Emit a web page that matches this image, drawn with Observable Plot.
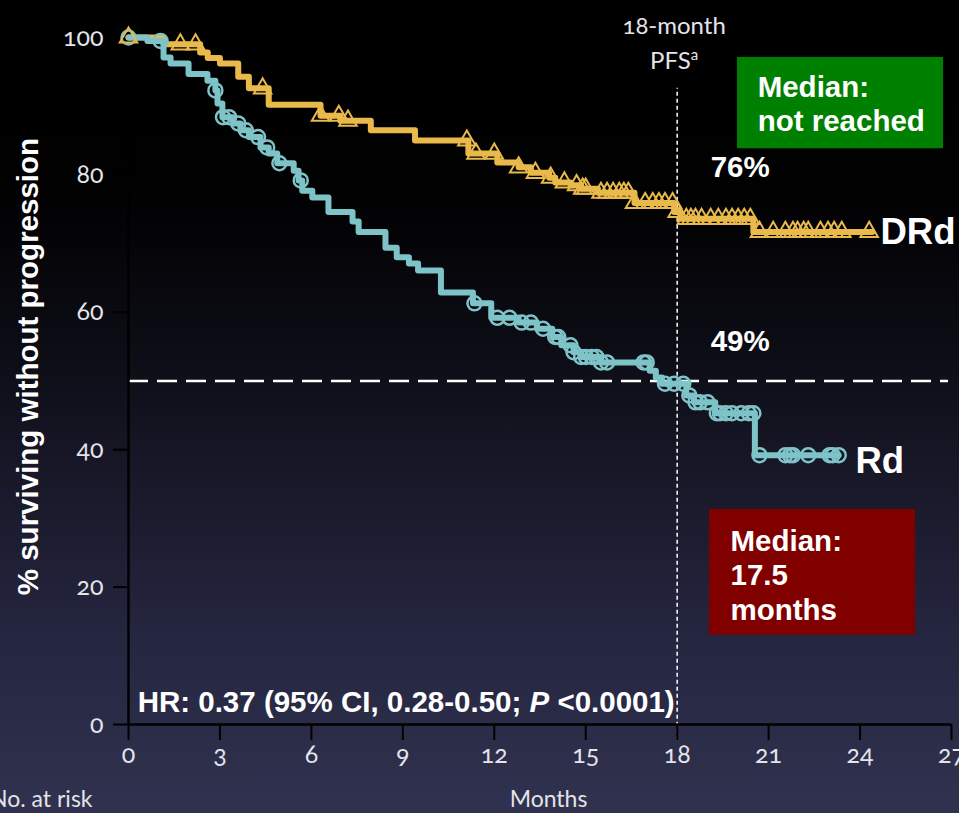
<!DOCTYPE html>
<html>
<head>
<meta charset="utf-8">
<script src="https://cdn.jsdelivr.net/npm/d3@7"></script>
<script src="https://cdn.jsdelivr.net/npm/@observablehq/plot@0.6"></script>
<style>
  html, body { margin: 0; padding: 0; }
  body {
    width: 959px; height: 813px; overflow: hidden;
    background: linear-gradient(180deg, #000000 0px, #010102 190px, #0b0b13 330px, #181829 480px, #252640 640px, #30324f 813px);
  }
  #chart svg { display: block; background: transparent; }
  #chart svg .oldnum text { font-feature-settings: "onum" 1; font-variant-numeric: oldstyle-nums; }
</style>
</head>
<body>
<div id="chart"></div>
<script>
// ---- Data ----
// DRd Kaplan-Meier steps (months, % progression-free)
const drdTimes  = [0, 1.15, 2.35, 2.6, 3.0, 3.6, 3.95, 4.6, 6.3, 6.95, 7.95, 9.4, 11.15, 12.1, 12.8, 13.2, 13.8, 14.0, 14.5, 14.85, 15.4, 16.6, 17.9, 18.1, 20.5, 24.4];
const drdValues = [100, 99.0, 97.8, 97.0, 96.2, 94.3, 92.6, 90.2, 88.6, 87.9, 86.5, 85.0, 83.1, 81.8, 81.1, 80.3, 79.6, 78.9, 78.5, 78.0, 77.4, 75.9, 74.6, 73.6, 71.7, 71.7];
// Rd Kaplan-Meier steps
const rdTimes  = [0, 0.62, 1.15, 1.38, 1.97, 2.59, 2.85, 2.92, 3.08, 3.41, 3.67, 3.95, 4.33, 4.6, 4.88, 5.42, 5.58, 5.7, 6.03, 6.56, 7.35, 7.55, 8.43, 8.8, 9.2, 9.5, 10.25, 11.3, 11.9, 12.8, 13.4, 13.9, 14.2, 14.6, 14.85, 15.5, 17.1, 17.3, 17.5, 18.3, 18.55, 19.25, 20.55, 23.3];
const rdValues = [100, 99.5, 97.1, 96.2, 94.7, 93.7, 92.3, 90.4, 88.4, 87.5, 86.5, 85.5, 84.0, 83.1, 81.7, 80.6, 79.2, 77.7, 76.7, 74.6, 73.2, 71.7, 69.4, 68.0, 67.1, 66.1, 62.9, 61.3, 59.2, 58.5, 57.6, 56.4, 55.2, 54.2, 53.5, 52.7, 51.5, 50.5, 49.6, 47.9, 46.9, 45.3, 39.2, 39.2];
// Censoring times
const drdCensor = [0, 1.7, 2.2, 4.4, 6.3, 6.9, 7.2, 11.1, 11.4, 12.0, 12.8, 13.35, 13.85, 14.3, 14.7, 14.9, 15.0, 15.5, 15.7, 15.9, 16.1, 16.25, 16.4, 16.6, 16.95, 17.2, 17.4, 17.6, 17.85, 18.0, 18.3, 18.45, 18.6, 18.8, 19.1, 19.35, 19.6, 19.8, 20.0, 20.2, 20.4, 20.7, 21.15, 21.55, 21.8, 21.95, 22.15, 22.3, 22.7, 22.95, 23.15, 23.4, 24.3];
const rdCensor = [0, 1.05, 2.85, 3.1, 3.3, 3.6, 3.85, 4.25, 4.55, 4.95, 5.65, 11.35, 12.1, 12.5, 12.9, 13.2, 13.6, 14.0, 14.1, 14.5, 14.6, 14.85, 15.0, 15.2, 15.35, 15.5, 15.7, 16.9, 17.0, 17.6, 17.9, 18.2, 18.4, 18.6, 18.75, 19.0, 19.3, 19.4, 19.6, 19.8, 20.1, 20.35, 20.5, 20.7, 21.55, 21.7, 21.8, 22.3, 23.0, 23.1, 23.3];
// Axis ticks
const xTicks = [0, 3, 6, 9, 12, 15, 18, 21, 24, 27];
const yTicks = [0, 20, 40, 60, 80, 100];
const landmarkMonth = 18;
const medianLine = 50;
const labels = {
  yTitle: "% surviving without progression",
  xTitle: "Months",
  atRisk: "No. at risk",
  hrPre: "HR: 0.37 (95% CI, 0.28-0.50; ",
  hrP: "P",
  hrPost: " <0.0001)",
  pfs1: "18-month",
  pfs2: "PFS",
  pfsSup: "a",
  drdPct: "76%",
  rdPct: "49%",
  drd: "DRd",
  rd: "Rd",
  drdMedian: "Median:\nnot reached",
  rdMedian: "Median:\n17.5\nmonths"
};

// ---- Build tables ----
const drd = drdTimes.map((t, i) => ({t, s: drdValues[i]}));
const rd = rdTimes.map((t, i) => ({t, s: rdValues[i]}));
const stepAt = (times, vals, t) => { let v = vals[0]; for (let i = 0; i < times.length; i++) if (times[i] <= t) v = vals[i]; return v; };
const drdMarks = drdCensor.map(t => ({t, s: stepAt(drdTimes, drdValues, t)}));
const rdMarks = rdCensor.map(t => ({t, s: stepAt(rdTimes, rdValues, t)}));

const YEL = "#E9BA4B";
const CYAN = "#7EC3C8";
const TICKTXT = "#e4e4ea";
const SANS = "Lato, 'Open Sans', sans-serif";
const BOLD = "'Liberation Sans', Arial, sans-serif";
const BF = 29.5;

const plot = Plot.plot({
  width: 959,
  height: 813,
  marginLeft: 128,
  marginRight: 8,
  marginTop: 37,
  marginBottom: 89,
  style: {background: "transparent", fontFamily: SANS},
  x: {domain: [0, 27], axis: null},
  y: {domain: [0, 100], axis: null},
  marks: [
    // boxes
    Plot.rect([0], {x1: 19.98, x2: 26.74, y1: 83.8, y2: 97.1, fill: "#008000"}),
    Plot.rect([0], {x1: 19.06, x2: 25.82, y1: 13.0, y2: 31.3, fill: "#800000"}),
    // reference lines
    Plot.ruleY([medianLine], {x1: 0, x2: 26.9, stroke: "white", strokeWidth: 2.5, strokeDasharray: "20,9"}),
    Plot.ruleX([landmarkMonth], {y1: -2.3, y2: 92.6, stroke: "white", strokeWidth: 1.5, strokeDasharray: "4,3"}),
    // axes
    Plot.ruleY([0], {x1: 0, x2: 27, stroke: "black", strokeWidth: 2.5}),
    Plot.ruleX([0], {y1: 0, y2: 100, stroke: "black", strokeWidth: 2.5}),
    Plot.axisX(xTicks, {label: null, tickSize: 16, tickPadding: 5, stroke: "black", strokeWidth: 2, fill: TICKTXT, fontSize: 25, anchor: "bottom", className: "oldnum"}),
    Plot.axisY(yTicks, {label: null, tickSize: 15, tickPadding: 10, stroke: "black", strokeWidth: 2, fill: TICKTXT, fontSize: 25, anchor: "left", className: "oldnum"}),
    // curves
    Plot.line(drd, {x: "t", y: "s", curve: "step-after", stroke: YEL, strokeWidth: 6}),
    Plot.line(rd, {x: "t", y: "s", curve: "step-after", stroke: CYAN, strokeWidth: 6}),
    Plot.dot(rdMarks, {x: "t", y: "s", r: 7, stroke: CYAN, strokeWidth: 2.5, fill: "none"}),
    Plot.dot(drdMarks, {x: "t", y: "s", r: 6.5, symbol: "triangle", stroke: YEL, strokeWidth: 2, fill: "none"}),
    // text
    Plot.text([labels.drdPct], {x: 19.1, y: 81.1, text: d => d, textAnchor: "start", fill: "white", fontSize: BF, fontWeight: "bold", fontFamily: BOLD}),
    Plot.text([labels.rdPct], {x: 19.1, y: 55.7, text: d => d, textAnchor: "start", fill: "white", fontSize: BF, fontWeight: "bold", fontFamily: BOLD}),
    Plot.text([labels.drd], {x: 24.67, y: 71.6, text: d => d, textAnchor: "start", fill: "white", fontSize: 36.5, fontWeight: "bold", fontFamily: BOLD}),
    Plot.text([labels.rd], {x: 23.85, y: 38.3, text: d => d, textAnchor: "start", fill: "white", fontSize: 36.5, fontWeight: "bold", fontFamily: BOLD}),
    Plot.text([labels.drdMedian], {x: 20.64, y: 90.45, text: d => d, textAnchor: "start", lineHeight: 1.15, fill: "white", fontSize: BF, fontWeight: "bold", fontFamily: BOLD}),
    Plot.text([labels.rdMedian], {x: 19.75, y: 21.9, text: d => d, textAnchor: "start", lineHeight: 1.17, fill: "white", fontSize: BF, fontWeight: "bold", fontFamily: BOLD}),
    Plot.text([labels.hrPre], {x: 0.3, y: 3.25, text: d => d, textAnchor: "start", fill: "white", fontSize: BF, fontWeight: "bold", fontFamily: BOLD, className: "hrtext"}),
    Plot.text([labels.pfs1], {x: 17.9, y: 101.7, text: d => d, fill: TICKTXT, fontSize: 24, className: "oldnum"}),
    Plot.text([labels.pfs2], {x: 17.9, y: 96.6, text: d => d, fill: TICKTXT, fontSize: 24, className: "pfstext"}),
    Plot.text([labels.yTitle], {x: -3.28, y: 52.1, text: d => d, rotate: -90, fill: "white", fontSize: BF, fontWeight: "bold", fontFamily: BOLD}),
    Plot.text([labels.xTitle], {x: 13.78, y: -11.0, text: d => d, fill: TICKTXT, fontSize: 23}),
    Plot.text([labels.atRisk], {x: -1.18, y: -11.0, text: d => d, textAnchor: "end", fill: TICKTXT, fontSize: 23})
  ]
});
document.getElementById("chart").appendChild(plot);

// mixed-style text runs (italic P, superscript a)
const ns = "http://www.w3.org/2000/svg";
const hr = plot.querySelector(".hrtext text");
if (hr) {
  const tP = document.createElementNS(ns, "tspan");
  tP.setAttribute("font-style", "italic");
  tP.textContent = labels.hrP;
  const tPost = document.createElementNS(ns, "tspan");
  tPost.textContent = labels.hrPost;
  hr.appendChild(tP); hr.appendChild(tPost);
}
const pfs = plot.querySelector(".pfstext text");
if (pfs) {
  const sup = document.createElementNS(ns, "tspan");
  sup.setAttribute("font-size", "15");
  sup.setAttribute("dy", "-9");
  sup.textContent = labels.pfsSup;
  pfs.appendChild(sup);
}
</script>
</body>
</html>
